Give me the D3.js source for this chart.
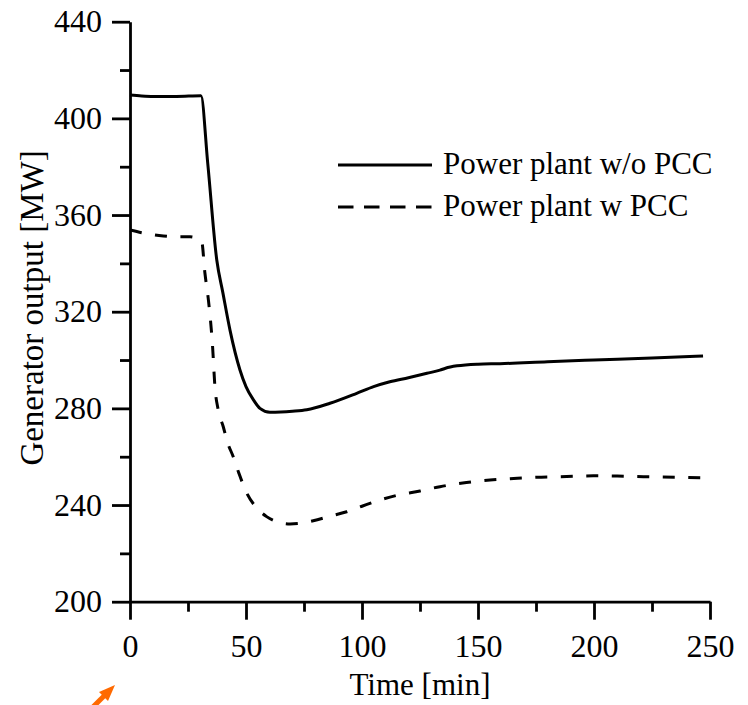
<!DOCTYPE html>
<html>
<head>
<meta charset="utf-8">
<script src="https://cdn.jsdelivr.net/npm/d3@7"></script>
<style>
  body { margin: 0; background: #fff; }
  svg text { font-family: "Liberation Serif", "Times New Roman", serif; fill: #000; }
</style>
</head>
<body>
<div id="chart"></div>
<script>
// Time in minutes and generator output in MW
const timeWoPCC = [0, 5, 10, 20, 30.6, 33.5, 37.4, 40, 43.1, 47.4, 50, 53.2, 56, 60.3, 65, 70, 76.2,
    86.2, 97.7, 105, 112, 120, 128, 133.6, 136, 141, 150, 159.5, 180, 200, 225, 247];
const outputWoPCC = [409.7, 409.3, 409.1, 409.1, 409.4, 381.5, 341.4, 328, 312.4, 295.9, 289, 283.5, 280, 278.4,
    278.5, 278.8, 279.4, 282.1, 286.2, 289, 291, 292.7, 294.5, 295.8, 296.6, 297.6, 298.3, 298.5, 299.3, 300, 300.8, 301.7];

const timeWPCC = [0, 5, 10, 14.4, 20, 25.9, 30.9, 32.3, 33.8, 35.6, 36.6, 38, 40.2, 42, 44.5, 47, 50.3, 54,
    58.9, 63, 69, 74, 79, 86, 93.4, 100, 107.8, 115, 125, 133.6, 145, 155.2, 163.8, 175, 188.2, 199.7, 210, 221.3, 235, 247];
const outputWPCC = [353.8, 352.7, 351.8, 351.3, 351, 351, 349, 335.9, 324.8, 305.5, 289, 279.5, 272.4, 266, 260, 253, 245, 239.5,
    235.2, 233.2, 232.2, 232.5, 233.5, 235.3, 237.2, 239.5, 242.1, 244, 245.8, 247.6, 249.3, 250.4, 250.9, 251.5, 251.8, 252.1, 252, 251.7, 251.5, 251.3];

const xTicks = [0, 50, 100, 150, 200, 250];
const xMinor = [25, 75, 125, 175, 225];
const yTicks = [200, 240, 280, 320, 360, 400, 440];
const yMinor = [220, 260, 300, 340, 380, 420];

const seriesNames = ["Power plant w/o PCC", "Power plant w PCC"];

const width = 748, height = 705;
const plotLeft = 130, plotRight = 710, plotTop = 21.7, plotBottom = 601.7;

const svg = d3.select("#chart").append("svg")
    .attr("width", width)
    .attr("height", height);

const x = d3.scaleLinear().domain([0, 250]).range([plotLeft, plotRight]);
const y = d3.scaleLinear().domain([200, 440]).range([plotBottom, plotTop]);

// X axis, major and minor ticks
const xAxis = svg.append("g")
    .attr("transform", `translate(0,${plotBottom})`)
    .call(d3.axisBottom(x).tickValues(xTicks).tickSize(18).tickSizeOuter(0).tickPadding(15));
svg.append("g")
    .attr("transform", `translate(0,${plotBottom})`)
    .call(d3.axisBottom(x).tickValues(xMinor).tickSize(10).tickSizeOuter(0).tickFormat(""))
    .select(".domain").remove();

// Y axis
const yAxis = svg.append("g")
    .attr("transform", `translate(${plotLeft},0)`)
    .call(d3.axisLeft(y).tickValues(yTicks).tickSize(18).tickSizeOuter(0).tickPadding(10));
svg.append("g")
    .attr("transform", `translate(${plotLeft},0)`)
    .call(d3.axisLeft(y).tickValues(yMinor).tickSize(10).tickSizeOuter(0).tickFormat(""))
    .select(".domain").remove();

svg.selectAll(".tick line, .domain")
    .attr("stroke", "#000")
    .attr("stroke-width", 2.8);
svg.selectAll(".tick text")
    .style("font-size", "32px");
xAxis.selectAll(".tick text").attr("dy", "0.71em");

// Lines
const line = d3.line()
    .x(d => x(d[0]))
    .y(d => y(d[1]))
    .curve(d3.curveMonotoneX);

svg.append("path")
    .datum(timeWoPCC.map((t, i) => [t, outputWoPCC[i]]))
    .attr("fill", "none")
    .attr("stroke", "#000")
    .attr("stroke-width", 3)
    .attr("d", line);

svg.append("path")
    .datum(timeWPCC.map((t, i) => [t, outputWPCC[i]]))
    .attr("fill", "none")
    .attr("stroke", "#000")
    .attr("stroke-width", 3)
    .attr("stroke-dasharray", "12,13.5")
    .attr("d", line);

// Axis titles
svg.append("text")
    .attr("x", (plotLeft + plotRight) / 2)
    .attr("y", 695)
    .attr("text-anchor", "middle")
    .style("font-size", "31px")
    .text("Time [min]");

svg.append("text")
    .attr("transform", "translate(43,308) rotate(-90)")
    .attr("text-anchor", "middle")
    .style("font-size", "33px")
    .text("Generator output [MW]");

// Legend
const legend = svg.append("g");
legend.append("line")
    .attr("x1", 338).attr("x2", 432)
    .attr("y1", 165).attr("y2", 165)
    .attr("stroke", "#000").attr("stroke-width", 3);
legend.append("text")
    .attr("x", 443).attr("y", 174)
    .style("font-size", "31px")
    .text(seriesNames[0]);
legend.append("line")
    .attr("x1", 338).attr("x2", 432)
    .attr("y1", 207).attr("y2", 207)
    .attr("stroke", "#000").attr("stroke-width", 3)
    .attr("stroke-dasharray", "15.5,10.5");
legend.append("text")
    .attr("x", 443).attr("y", 216)
    .style("font-size", "31px")
    .text(seriesNames[1]);

// small orange arrow in the bottom left corner
svg.append("line")
    .attr("x1", 93).attr("y1", 707)
    .attr("x2", 106).attr("y2", 694)
    .attr("stroke", "#ff6a00").attr("stroke-width", 5);
svg.append("path")
    .attr("d", "M115,685 L99,692 L108,701 Z")
    .attr("fill", "#ff6a00");
</script>
</body>
</html>
